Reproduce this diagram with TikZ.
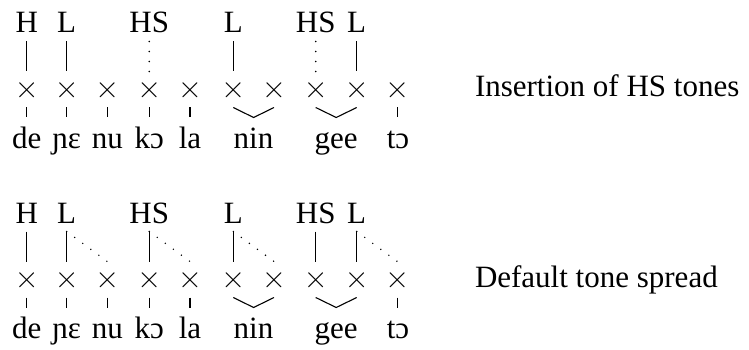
\documentclass[tikz,border=0pt]{standalone}
\usepackage{fontspec}
\setmainfont{Liberation Serif}
\newfontfamily\lmfont{Latin Modern Roman}
\begin{document}
\begin{tikzpicture}[x=1pt,y=-1pt,
  txt/.style={inner sep=0pt,outer sep=0pt,anchor=base,font=\fontsize{31}{37}\selectfont},
  crs/.style={inner sep=0pt,outer sep=0pt,anchor=base,font=\fontsize{33}{39}\lmfont},
  lbl/.style={inner sep=0pt,outer sep=0pt,anchor=base west,font=\fontsize{31}{37}\selectfont},
  assoc/.style={line width=1.3pt},
  tick/.style={line width=1.1pt},
  wedge/.style={line width=1.1pt},
  dotline/.style={line width=1.6pt,line cap=round,dash pattern=on 0pt off 10pt}]
\useasboundingbox (0,0) rectangle (749,350);
% columns
\def\cA{26.7}\def\cB{66.7}\def\cC{107.3}\def\cD{149.2}\def\cE{190}
\def\cF{233.3}\def\cG{274}\def\cH{315.7}\def\cI{356.7}\def\cJ{397.3}
\foreach \p/\Y in {a/0,b/190}{
  % skeleton
  \foreach \n/\x in {1/\cA,2/\cB,3/\cC,4/\cD,5/\cE,6/\cF,7/\cG,8/\cH,9/\cI,10/\cJ}{
    \node[crs] (\p x\n) at (\x,98.3+\Y) {×};
    \coordinate (\p up\n) at (\x,41.5+\Y);
    \coordinate (\p lo\n) at (\x,71.5+\Y);
    \coordinate (\p tt\n) at (\x,107.5+\Y);
    \coordinate (\p tb\n) at (\x,117.5+\Y);
  }
  % tones
  \node[txt] (\p H1) at (\cA,33+\Y) {H};
  \node[txt] (\p L2) at (\cB,33+\Y) {L};
  \node[txt] (\p HS4) at (\cD,33+\Y) {HS};
  \node[txt] (\p L6) at (\cF,33+\Y) {L};
  \node[txt] (\p HS8) at (\cH,33+\Y) {HS};
  \node[txt] (\p L9) at (\cI,33+\Y) {L};
  % syllables
  \node[txt] (\p s1) at (\cA,148.5+\Y) {de};
  \node[txt] (\p s2) at (\cB,148.5+\Y) {ɲɛ};
  \node[txt] (\p s3) at (\cC,148.5+\Y) {nu};
  \node[txt] (\p s4) at (\cD,148.5+\Y) {kɔ};
  \node[txt] (\p s5) at (\cE,148.5+\Y) {la};
  \node[txt] (\p s6) at (253.5,148.5+\Y) {nin};
  \node[txt] (\p s7) at (336.2,148.5+\Y) {gee};
  \node[txt] (\p s8) at (398,148.5+\Y) {tɔ};
  % ticks
  \foreach \n in {1,2,3,4,5,10}{ \draw[tick] (\p tt\n) -- (\p tb\n); }
  % wedges
  \coordinate (\p w1) at (253.6,117.5+\Y);
  \coordinate (\p w2) at (336.2,117.5+\Y);
  \draw[wedge] (\p tt6) -- (\p w1) -- (\p tt7);
  \draw[wedge] (\p tt8) -- (\p w2) -- (\p tt9);
}
% top panel associations
\foreach \n in {1,2,6,9}{ \draw[assoc] (aup\n) -- (alo\n); }
\foreach \n in {4,8}{ \draw[dotline] (aup\n) -- (alo\n); }
% bottom panel associations
\foreach \n in {1,2,4,6,8,9}{ \draw[assoc] (bup\n) -- (blo\n); }
\draw[dotline] (bup2) -- (blo3);
\draw[dotline] (bup4) -- (blo5);
\draw[dotline] (bup6) -- (blo7);
\draw[dotline] (bup9) -- (blo10);
% labels
\node[lbl] (lab1) at (475,96.7) {Insertion of HS tones};
\node[lbl] (lab2) at (475,287.3) {Default tone spread};
\end{tikzpicture}
\end{document}
